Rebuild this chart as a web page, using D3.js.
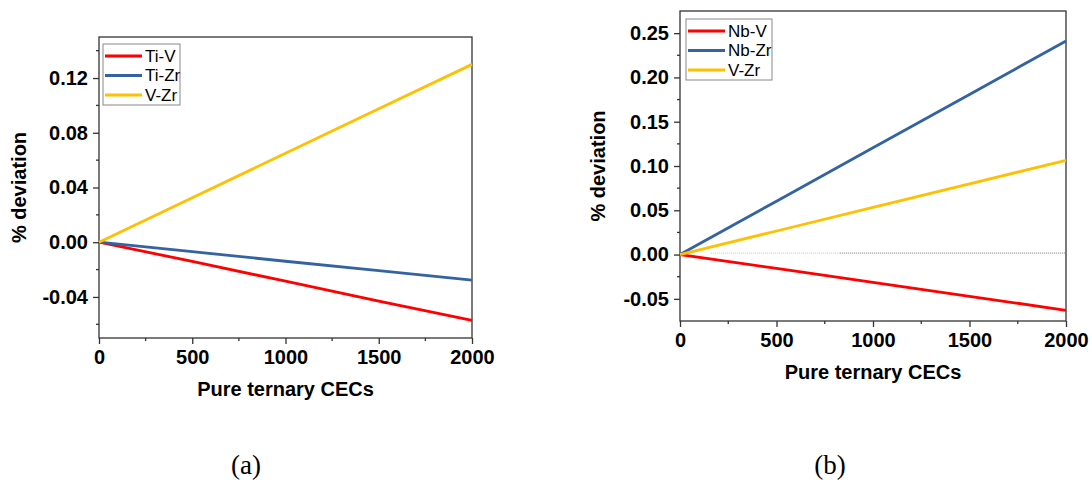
<!DOCTYPE html>
<html>
<head>
<meta charset="utf-8">
<script src="https://cdn.jsdelivr.net/npm/d3@7"></script>
<style>
  body { margin: 0; background: #fff; }
  svg { display: block; font-family: "Liberation Sans", Arial, sans-serif; }
  .axis path, .axis line { stroke: #333; stroke-width: 1.3; }
  .axis text { font-size: 20px; font-weight: bold; fill: #000; }
</style>
</head>
<body>
<svg id="chart" width="1092" height="483"></svg>
<script>
// x positions (pure ternary CECs)
let cecs = [0, 500, 1000, 1500, 2000];

// panel (a)
let namesA = ["Ti-V", "Ti-Zr", "V-Zr"];
let tiV = [0, -0.0140, -0.0285, -0.0430, -0.0572];
let tiZr = [0, -0.0069, -0.0139, -0.0208, -0.0277];
let vZrA = [0, 0.0325, 0.0650, 0.0975, 0.1300];
let yTicksA = [-0.04, 0.00, 0.04, 0.08, 0.12];

// panel (b)
let namesB = ["Nb-V", "Nb-Zr", "V-Zr"];
let nbV = [0, -0.0157, -0.0314, -0.0471, -0.0629];
let nbZr = [0, 0.0603, 0.1206, 0.1808, 0.2411];
let vZrB = [0, 0.0266, 0.0532, 0.0798, 0.1064];
let yTicksB = [-0.05, 0.00, 0.05, 0.10, 0.15, 0.20, 0.25];

let xTicks = [0, 500, 1000, 1500, 2000];
let colors = ["#ff0000", "#3463a3", "#ffc000"];

let svg = d3.select("#chart");
let fmt2 = d3.format(".2f");

function drawPanel(p) {
    let x = d3.scaleLinear().domain([0, 2000]).range([p.left, p.right]);
    let y = d3.scaleLinear().domain(p.yDomain).range([p.bottom, p.top]);
    let g = svg.append("g");

    // frame
    g.append("rect")
        .attr("x", p.left).attr("y", p.top)
        .attr("width", p.right - p.left).attr("height", p.bottom - p.top)
        .attr("fill", "none").attr("stroke", "#333").attr("stroke-width", 1.3);

    // minor ticks
    let xMinor = d3.range(250, 2000, 500);
    g.append("g").selectAll("line").data(xMinor).enter().append("line")
        .attr("x1", d => x(d)).attr("x2", d => x(d))
        .attr("y1", p.bottom).attr("y2", p.bottom + 3)
        .attr("stroke", "#333").attr("stroke-width", 1.3);
    let step = p.yTicks[1] - p.yTicks[0];
    let yMinor = p.yTicks.map(t => t + step / 2)
        .concat([p.yTicks[0] - step / 2])
        .filter(v => v > p.yDomain[0] && v < p.yDomain[1]);
    g.append("g").selectAll("line").data(yMinor).enter().append("line")
        .attr("x1", p.left - 3).attr("x2", p.left)
        .attr("y1", d => y(d)).attr("y2", d => y(d))
        .attr("stroke", "#333").attr("stroke-width", 1.3);

    // axes
    g.append("g")
        .attr("class", "axis")
        .attr("transform", "translate(0," + p.bottom + ")")
        .call(d3.axisBottom(x).tickValues(xTicks).tickSize(6).tickPadding(6).tickFormat(d3.format("d")))
        .call(a => a.select(".domain").remove());

    g.append("g")
        .attr("class", "axis")
        .attr("transform", "translate(" + p.left + ",0)")
        .call(d3.axisLeft(y).tickValues(p.yTicks).tickSize(6).tickPadding(5)
            .tickFormat(d => fmt2(d).replace("\u2212", "-")))
        .call(a => a.select(".domain").remove());

    // reference line (b only)
    if (p.refLine) {
        g.append("line")
            .attr("x1", x(160)).attr("x2", x(830))
            .attr("y1", y(0.0017)).attr("y2", y(0.0017))
            .attr("stroke", "#c8c8c8").attr("stroke-width", 1).attr("stroke-dasharray", "1,1");
        g.append("line")
            .attr("x1", x(830)).attr("x2", x(2000))
            .attr("y1", y(0.0017)).attr("y2", y(0.0017))
            .attr("stroke", "#777").attr("stroke-width", 1).attr("stroke-dasharray", "1,1");
    }

    // series
    let line = d3.line().x((d, i) => x(cecs[i])).y(d => y(d));
    g.append("g").selectAll("path")
        .data(p.series)
        .enter().append("path")
        .attr("d", d => line(d))
        .attr("fill", "none")
        .attr("stroke", (d, i) => colors[i])
        .attr("stroke-width", 2.8);

    // axis titles
    g.append("text")
        .attr("x", (p.left + p.right) / 2)
        .attr("y", p.bottom + 58)
        .attr("text-anchor", "middle")
        .attr("font-size", 20).attr("font-weight", "bold")
        .text("Pure ternary CECs");

    g.append("text")
        .attr("transform", "translate(" + p.yTitleX + "," + (p.top + p.bottom) / 2 + ") rotate(-90)")
        .attr("text-anchor", "middle")
        .attr("font-size", 20).attr("font-weight", "bold")
        .text("% deviation");

    // legend
    let lg = g.append("g").attr("transform", "translate(" + p.legend[0] + "," + p.legend[1] + ")");
    lg.append("rect")
        .attr("width", p.legend[2]).attr("height", 61)
        .attr("fill", "#fff").attr("stroke", "#888").attr("stroke-width", 1);
    let items = lg.selectAll("g.item").data(p.names).enter().append("g")
        .attr("class", "item")
        .attr("transform", (d, i) => "translate(0," + (12 + i * 19.5) + ")");
    items.append("line")
        .attr("x1", 2).attr("x2", 39)
        .attr("stroke", (d, i) => colors[i]).attr("stroke-width", 2.8);
    items.append("text")
        .attr("x", 42).attr("dy", "0.35em")
        .attr("font-size", 17)
        .text(d => d);

    // caption
    svg.append("text")
        .attr("x", p.caption).attr("y", 474)
        .attr("text-anchor", "middle")
        .attr("font-family", "'Liberation Serif', 'Times New Roman', serif")
        .attr("font-size", 27)
        .text(p.captionText);
}

drawPanel({
    left: 99, right: 472, top: 37, bottom: 338,
    yDomain: [-0.07, 0.15], yTicks: yTicksA,
    series: [tiV, tiZr, vZrA], names: namesA,
    yTitleX: 26, legend: [103, 44, 77],
    caption: 246, captionText: "(a)"
});

drawPanel({
    left: 680, right: 1066, top: 11, bottom: 321,
    yDomain: [-0.075, 0.275], yTicks: yTicksB,
    series: [nbV, nbZr, vZrB], names: namesB,
    yTitleX: 605, legend: [686, 19, 86],
    caption: 830, captionText: "(b)", refLine: true
});
</script>
</body>
</html>
